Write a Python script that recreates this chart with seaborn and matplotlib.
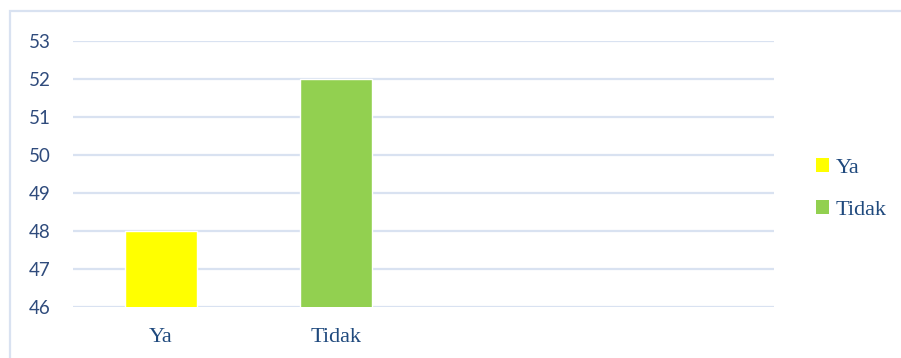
import matplotlib
matplotlib.use("Agg")
import matplotlib.pyplot as plt
import seaborn as sns
import pandas as pd
from matplotlib.patches import Patch, Rectangle

categories = ["Ya", "Tidak"]
values = [48, 52]
colors = ["#FFFF00", "#92D050"]
yticks = [46, 47, 48, 49, 50, 51, 52, 53]

sns.set_theme(style="white")

df = pd.DataFrame({"cat": categories, "val": values})

fig = plt.figure(figsize=(9.01, 3.58), dpi=100)
ax = fig.add_axes([73 / 901, 1 - 307 / 358, (774 - 73) / 901, (307 - 41) / 358])

sns.barplot(data=df, x="cat", y="val", hue="cat", order=categories,
            palette=dict(zip(categories, colors)), width=0.41,
            legend=False, ax=ax, zorder=3, saturation=1)

ax.set_xlim(-0.5, 3.5)
ax.set_ylim(46, 53)
ax.set_yticks(yticks)
ax.set_yticklabels([str(t) for t in yticks], fontsize=13.5, family="Lato",
                   color="#2F4B7C")
ax.set_xticks(range(len(categories)))
ax.set_xticklabels(categories, fontsize=16, family="Liberation Serif",
                   color="#1F497D")
ax.tick_params(axis="y", length=0, pad=16)
ax.tick_params(axis="x", length=0, pad=15)
ax.set_xlabel("")
ax.set_ylabel("")
ax.grid(axis="y", color="#D9E2F1", linewidth=1.6, zorder=0)
ax.set_axisbelow(True)
for s in ax.spines.values():
    s.set_visible(False)

handles = [Patch(facecolor=c, edgecolor="none") for c in colors]
leg = fig.legend(handles, categories, loc="center left",
                 bbox_to_anchor=(796 / 901, 1 - 189 / 358), frameon=False,
                 prop={"family": "Liberation Serif", "size": 16},
                 handlelength=0.6, handleheight=0.6, handletextpad=0.3,
                 labelspacing=1.0)
for t in leg.get_texts():
    t.set_color("#1F497D")

fig.patches.append(Rectangle((9.5 / 901, -0.1), 1.0, 1 - 11 / 358 + 0.1,
                             transform=fig.transFigure, fill=False,
                             edgecolor="#D9E2F1", linewidth=1.6))

fig.savefig("out.png", dpi=100)
